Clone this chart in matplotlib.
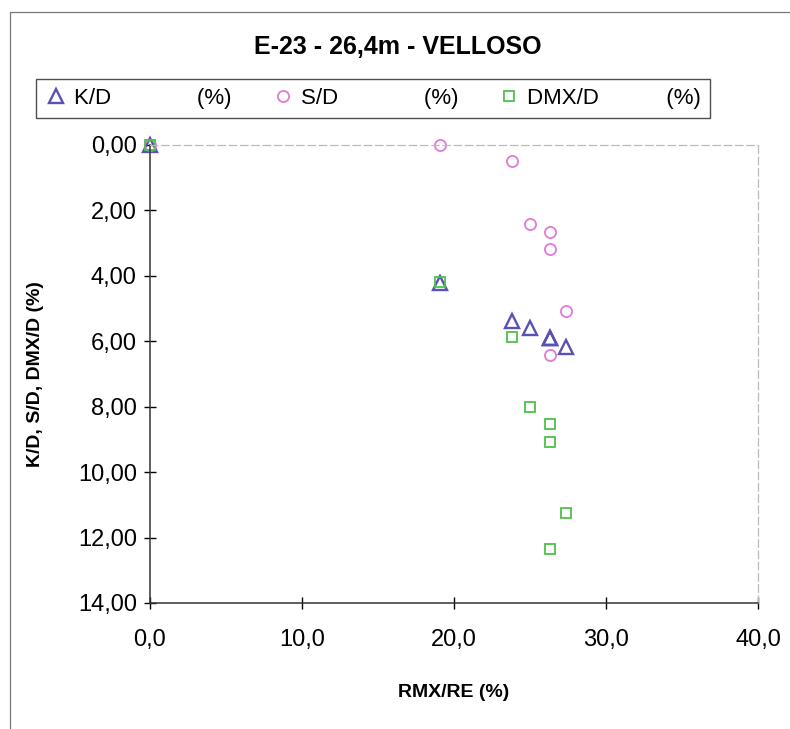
import numpy as np
import matplotlib.pyplot as plt
from matplotlib.patches import Rectangle
from matplotlib.ticker import FuncFormatter

plt.rcParams['font.family'] = ['Liberation Sans Narrow', 'Liberation Sans', 'DejaVu Sans']

# RMX/RE (%) for each sample, shared by the three series
rmx_re = [0.0, 19.1, 23.8, 25.0, 26.3, 26.3, 27.4, 26.3]
k_d = [0.0, 4.23, 5.38, 5.60, 5.91, 5.91, 6.17, 5.91]
s_d = [0.0, 0.0, 0.50, 2.40, 2.65, 3.18, 5.08, 6.43]
dmx_d = [0.0, 4.20, 5.87, 8.00, 8.54, 9.08, 11.26, 12.36]

title = "E-23 - 26,4m - VELLOSO"
x_ticks = [0, 10, 20, 30, 40]
y_ticks = [0, 2, 4, 6, 8, 10, 12, 14]

fig = plt.figure(figsize=(7.9, 7.29), dpi=100)
ax = fig.add_axes([150/790, 1-603/729, 608/790, 458/729])

# outer chart frame
fig.patches.append(Rectangle((10/790, -0.05), 1.0, 1-12/729+0.05, transform=fig.transFigure,
                             fill=False, edgecolor='#777777', linewidth=0.9))

ax.plot(rmx_re, k_d, linestyle='none', marker='^', markersize=10, markerfacecolor='none',
        markeredgecolor='#5a52b0', markeredgewidth=1.7, label='K/D              (%)', clip_on=False)
ax.plot(rmx_re, s_d, linestyle='none', marker='o', markersize=8, markerfacecolor='none',
        markeredgecolor='#e07ad8', markeredgewidth=1.3, label='S/D              (%)', clip_on=False)
ax.plot(rmx_re, dmx_d, linestyle='none', marker='s', markersize=7.5, markerfacecolor='none',
        markeredgecolor='#4cc04c', markeredgewidth=1.3, label='DMX/D           (%)', clip_on=False)

ax.set_xlim(0, 40)
ax.set_ylim(14, 0)
ax.set_xticks(x_ticks)
ax.set_yticks(y_ticks)
ax.xaxis.set_major_formatter(FuncFormatter(lambda v, p: f"{v:.1f}".replace('.', ',')))
ax.yaxis.set_major_formatter(FuncFormatter(lambda v, p: f"{v:.2f}".replace('.', ',')))
ax.tick_params(direction='inout', length=9, width=1, labelsize=17)
ax.tick_params(axis='x', pad=14)
ax.tick_params(axis='y', pad=5)

for side in ['top', 'right']:
    ax.spines[side].set_linestyle((0, (6, 3)))
    ax.spines[side].set_color('#bbbbbb')
    ax.spines[side].set_linewidth(0.9)
for side in ['left', 'bottom']:
    ax.spines[side].set_color('#333333')
    ax.spines[side].set_linewidth(1.1)

ax.set_xlabel("RMX/RE (%)", fontsize=14, fontweight='bold', labelpad=24)
ax.set_ylabel("K/D, S/D, DMX/D (%)", fontsize=14, fontweight='bold', labelpad=24)

fig.text(398/790, 1-47/729, title, ha='center', va='center', fontsize=18, fontweight='bold')

leg = fig.legend(loc='lower left', bbox_to_anchor=(36/790, 1-118/729, 674/790, 50/729),
                 mode='expand', ncol=3, frameon=True, fancybox=False, fontsize=16,
                 handletextpad=0.3, borderaxespad=0, handlelength=1.0)
leg.get_frame().set_edgecolor('#222222')
leg.get_frame().set_linewidth(1.0)

fig.savefig("out.png", dpi=100)
